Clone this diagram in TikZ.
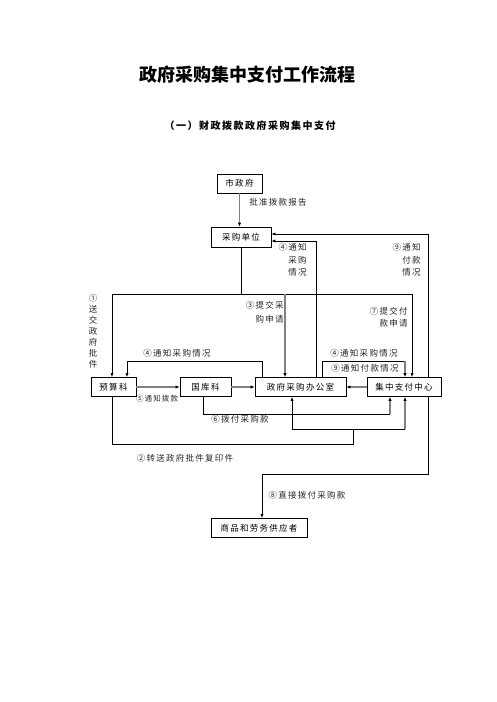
\documentclass[tikz,border=0pt]{standalone}
\usepackage{fontspec}
\setmainfont{Noto Sans CJK SC}[LetterSpace=15]
\newfontfamily\titlefont{Noto Sans CJK SC}
\usetikzlibrary{arrows.meta,positioning,calc}

\begin{document}
\begin{tikzpicture}[x=1pt,y=-1pt,>={Latex[length=4pt,width=3.2pt]},line width=0.7pt]
  \tikzstyle{box}=[draw,line width=0.8pt,minimum height=19pt,inner sep=0pt,font=\fontsize{8.5}{10}\selectfont]
  \tikzstyle{lbl}=[inner sep=0pt,text=black!85,font=\fontsize{8.5}{12.5}\selectfont]
  \tikzstyle{garrow}=[-{Latex[length=4pt,width=3.4pt,black]},draw=gray,line width=1.4pt]
  \useasboundingbox (0,0) rectangle (496,702);

  \node[font=\titlefont\bfseries\fontsize{18}{20}\selectfont] (title) at (247,75) {政府采购集中支付工作流程};
  \node[font=\bfseries\fontsize{10}{12}\selectfont] (subtitle) at (250,126) {（一）财政拨款政府采购集中支付};

  \node[box,minimum width=45pt] (gov) at (239.5,183.5) {市政府};
  \node[box,minimum width=60pt,minimum height=20pt] (unit) at (241,237) {采购单位};
  \node[box,minimum width=45pt] (budget) at (113.5,387) {预算科};
  \node[box,minimum width=51pt] (treasury) at (205.5,387) {国库科};
  \node[box,minimum width=91pt] (office) at (300.5,387) {政府采购办公室};
  \node[box,minimum width=74pt] (center) at (404,387) {集中支付中心};
  \node[box,minimum width=96pt] (supplier) at (259,528) {商品和劳务供应者};

  % top part
  \draw[garrow] (gov.south) -- (gov.south |- unit.north);
  \coordinate (jL) at (112,294);
  \coordinate (jR) at (412,294);
  \coordinate (jS) at (285,294);
  \draw[->] (unit.south) |- (jL) -- (jL |- budget.north);
  \draw[->] (unit.south) |- (jR) -- (jR |- center.north);
  \draw[garrow] (jS) -- (jS |- office.north);

  \coordinate (r4) at (316,241);
  \draw[->] (r4 |- office.north) -- (r4) -- (r4 -| unit.east);
  \coordinate (r9) at (428,234);
  \draw[->] (r9 |- center.north) -- (r9) -- (r9 -| unit.east);

  \coordinate (l4a) at (262,361);
  \coordinate (l4b) at (127,361);
  \draw[->] (l4a |- office.north) -- (l4a) -- (l4b) -- (l4b |- budget.north);
  \coordinate (m4a) at (322,361);
  \coordinate (m4b) at (405,361);
  \draw (m4a |- office.north) -- (m4a) -- (m4b);
  \draw[garrow] (m4b) -- (m4b |- center.north);

  % middle row
  \draw[garrow] (budget) -- (treasury);
  \draw[garrow] (treasury) -- (office);
  \draw[garrow] (center) -- (office);

  % bottom part
  \coordinate (b6a) at (203,414);
  \coordinate (b6b) at (390,414);
  \draw (b6a |- treasury.south) -- (b6a) -- (b6b);
  \draw[garrow] (b6b) -- (b6b |- center.south);

  \coordinate (b2a) at (112,444);
  \coordinate (b2b) at (353,444);
  \coordinate (b2c) at (292,429);
  \coordinate (b2d) at (405,429);
  \draw (b2a |- budget.south) -- (b2a) -- (b2b) -- (b2b |- b2c);
  \draw[->] (b2c) -- (b2c |- office.south);
  \draw (b2c) -- (b2d);
  \draw[garrow] (b2d) -- (b2d |- center.south);

  \coordinate (b8a) at (428,474);
  \coordinate (b8b) at (262,474);
  \draw[->] (b8a |- center.south) -- (b8a) -- (b8b) -- (b8b |- supplier.north);

  % labels
  \node[lbl,anchor=west] (approve) at (249,202) {批准拨款报告};
  \node[lbl,align=right,anchor=north east] (n4up) at (307,243) {④通知\\采购\\情况};
  \node[lbl,align=right,anchor=north east] (n9up) at (421,243) {⑨通知\\付款\\情况};
  \node[lbl,align=right,anchor=north east,font=\fontsize{8.5}{14}\selectfont] (n3) at (284,301) {③提交采\\购申请};
  \node[lbl,align=right,anchor=north east,font=\fontsize{8.5}{12}\selectfont] (n7) at (408,307) {⑦提交付\\款申请};
  \node[lbl,align=center,font=\fontsize{8.5}{11}\selectfont] (n1) at (93,331) {①\\送\\交\\政\\府\\批\\件};
  \node[lbl] (n4left) at (177,353) {④通知采购情况};
  \node[lbl] (n4right) at (364,353) {④通知采购情况};
  \node[lbl] (n9mid) at (365,368) {⑨通知付款情况};
  \node[lbl,font=\fontsize{7.5}{9}\selectfont] (n5) at (157,399) {⑤通知拨款};
  \node[lbl] (n6) at (240,419) {⑥拨付采购款};
  \node[lbl] (n2) at (185,458) {②转送政府批件复印件};
  \node[lbl] (n8) at (307,495) {⑧直接拨付采购款};
\end{tikzpicture}
\end{document}
